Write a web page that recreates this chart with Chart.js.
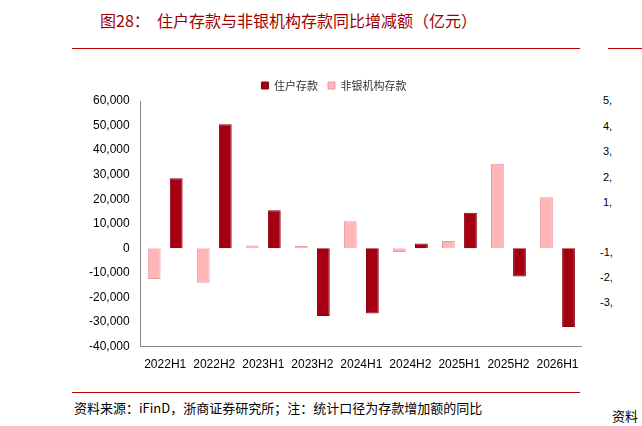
<!DOCTYPE html>
<html><head><meta charset="utf-8">
<script src="https://cdn.jsdelivr.net/npm/chart.js@4/dist/chart.umd.min.js"></script>
<style>
body{margin:0;width:642px;height:426px;background:#fff;position:relative;overflow:hidden;font-family:"Noto Sans CJK SC",sans-serif}
.t{position:absolute;white-space:nowrap}
.ln{position:absolute;height:1px;background:#c00000}
.fr{position:absolute;font:11px Arial,"Liberation Sans";color:#000;left:603px}
</style></head><body>
<div class="t" style="left:100px;top:8px;font-size:16px;color:#a00000">图28：&nbsp;&nbsp;住户存款与非银机构存款同比增减额（亿元）</div>
<div class="ln" style="left:72px;top:48px;width:508px"></div>
<div class="ln" style="left:608px;top:48px;width:40px"></div>
<div class="ln" style="left:72px;top:392px;width:508px;background:#c00000"></div>
<div class="t" style="left:74px;top:398px;font-size:13px;color:#000">资料来源：iFinD，浙商证券研究所；注：统计口径为存款增加额的同比</div>
<div class="t" style="left:612px;top:406px;font-size:13px;color:#000">资料</div>
<div class="fr" style="top:94px">5,</div><div class="fr" style="top:120px">4,</div>
<div class="fr" style="top:145px">3,</div><div class="fr" style="top:171px">2,</div>
<div class="fr" style="top:196px">1,</div><div class="fr" style="top:246px;left:600px">-1,</div>
<div class="fr" style="top:271px;left:600px">-2,</div><div class="fr" style="top:296px;left:600px">-3,</div>
<div style="position:absolute;left:86px;top:70px;width:496px;height:305px"><canvas id="c"></canvas></div>
<script>
const categories=["2022H1","2022H2","2023H1","2023H2","2024H1","2024H2","2025H1","2025H2","2026H1"];
const household=[28500,50500,15500,-27500,-26500,2000,14500,-11500,-32000];
const nonbank=[-12500,-14000,1200,1000,11000,-1500,3000,34500,20800];
const yTicks=[60000,50000,40000,30000,20000,10000,0,-10000,-20000,-30000,-40000];
new Chart(document.getElementById('c'),{type:'bar',
data:{labels:categories,datasets:[
{label:'非银机构存款',data:nonbank,backgroundColor:'#ffb6b9',borderColor:'#e89a9e',borderWidth:1,barPercentage:0.58,categoryPercentage:0.9},
{label:'住户存款',data:household,backgroundColor:'#a50012',borderColor:'#8a0010',borderWidth:1,barPercentage:0.58,categoryPercentage:0.9}]},
options:{responsive:true,maintainAspectRatio:false,animation:false,
plugins:{legend:{reverse:true,labels:{boxWidth:7,boxHeight:7,padding:10,font:{size:11,family:'"Noto Sans CJK SC"'},color:'#333'}},tooltip:{enabled:false}},
scales:{x:{grid:{display:false},border:{color:'#888'},ticks:{color:'#000',font:{size:12,family:'Arial'}}},
y:{min:-40000,max:60000,afterBuildTicks:a=>{a.ticks=yTicks.map(v=>({value:v}))},grid:{display:false},border:{color:'#888'},
ticks:{color:'#000',font:{size:12,family:'Arial'},callback:v=>v.toLocaleString('en-US')}}}}});
</script></body></html>
